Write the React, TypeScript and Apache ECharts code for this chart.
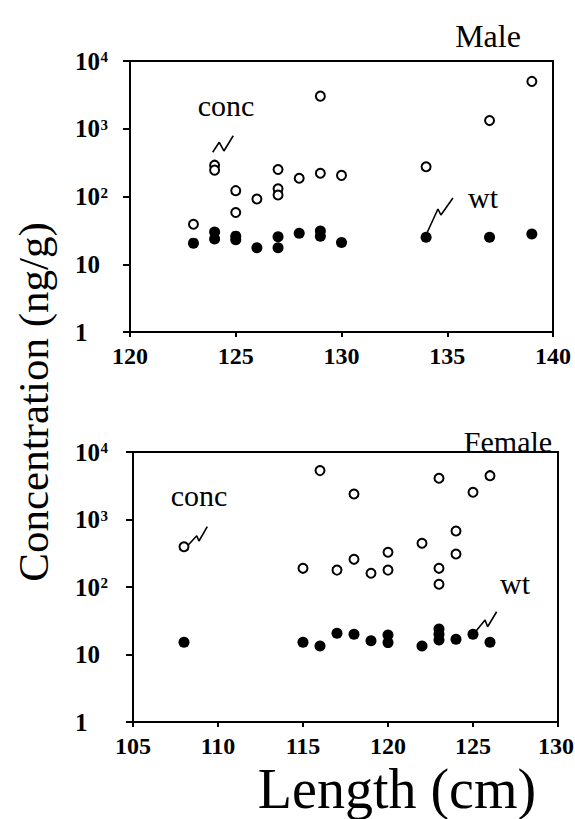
import React, { useEffect, useRef } from "react";
import * as echarts from "echarts";

// Male panel
const maleConcLength = [123, 124, 124, 125, 125, 126, 127, 127, 127, 128, 129, 129, 130, 134, 137, 139];
const maleConc = [39, 290, 245, 122, 58, 92, 250, 130, 105, 186, 3030, 220, 205, 275, 1320, 5000];
const maleWtLength = [123, 124, 124, 125, 125, 126, 127, 127, 128, 129, 129, 130, 134, 137, 139];
const maleWt = [20.5, 30, 23.6, 26, 23, 17.5, 25.5, 17.5, 28.6, 31, 26, 21, 25, 25, 28];

// Female panel
const femaleConcLength = [108, 115, 116, 117, 118, 118, 119, 120, 120, 122, 123, 123, 123, 124, 124, 125, 126];
const femaleConc = [395, 189, 5300, 178, 257, 2390, 160, 327, 178, 444, 4080, 189, 110, 675, 308, 2530, 4460];
const femaleWtLength = [108, 115, 116, 117, 118, 119, 120, 120, 122, 123, 123, 123, 124, 125, 126];
const femaleWt = [15.2, 15.2, 13.4, 20.6, 20, 16, 19.5, 15, 13.4, 23.9, 20, 16.4, 16.8, 20, 15.2];

// Break-style leader lines (data coordinates)
const maleConcLeaderX = [123.91, 124.22, 124.44, 124.88];
const maleConcLeaderY = [449, 631, 470, 789];
const maleWtLeaderX = [134.04, 134.56, 134.7, 135.27];
const maleWtLeaderY = [28.9, 65.4, 53.3, 95];
const femaleConcLeaderX = [108.25, 108.75, 108.88, 109.37];
const femaleConcLeaderY = [419, 575, 480, 782];
const femaleWtLeaderX = [125.18, 125.71, 125.86, 126.39];
const femaleWtLeaderY = [22.3, 32.5, 25.8, 43];

// Axis ranges and tick labels
const maleXRange = [120, 140];
const femaleXRange = [105, 130];
const xInterval = 5;
const maleXTicks = [120, 125, 130, 135, 140];
const femaleXTicks = [105, 110, 115, 120, 125, 130];
const yRange = [1, 10000];
const yTicks = [1, 10, 100, 1000, 10000];
const yTickBase = ["1", "10", "10", "10", "10"];
const yTickExp = ["", "", "2", "3", "4"];

const SERIF_FONT = "'Liberation Serif', 'Times New Roman', serif";

const zip = (xs: number[], ys: number[]) => xs.map((x, i) => [x, ys[i]]);

export default function App() {
  const ref = useRef<HTMLDivElement>(null);

  useEffect(() => {
    if (!ref.current) return;
    const chart = echarts.init(ref.current, undefined, { renderer: "svg" });

    const xAxisBase = (gridIndex: number, range: number[]) => ({
      type: "value",
      gridIndex,
      min: range[0],
      max: range[1],
      interval: xInterval,
      axisLine: { show: true, lineStyle: { color: "#000", width: 2 } },
      axisTick: { show: true, inside: false, length: 5, lineStyle: { color: "#000", width: 2 } },
      axisLabel: { show: false },
      splitLine: { show: false },
    });

    const yAxisBase = (gridIndex: number) => ({
      type: "log",
      logBase: 10,
      gridIndex,
      min: yRange[0],
      max: yRange[1],
      axisLine: { show: true, lineStyle: { color: "#000", width: 2 } },
      axisTick: { show: true, inside: false, length: 7, lineStyle: { color: "#000", width: 2 } },
      minorTick: { show: false },
      axisLabel: { show: false },
      splitLine: { show: false },
    });

    const openStyle = { color: "#fff", borderColor: "#000", borderWidth: 2, opacity: 1 };
    const filledStyle = { color: "#000", opacity: 1 };

    const leader = (xi: number, xs: number[], ys: number[]) => ({
      type: "line",
      xAxisIndex: xi,
      yAxisIndex: xi,
      data: zip(xs, ys),
      symbol: "none",
      lineStyle: { color: "#000", width: 1.6 },
      silent: true,
      z: 1,
    });

    const textStyle = (text: string, size: number, align = "center") => ({
      text,
      fill: "#000",
      font: `${size}px ${SERIF_FONT}`,
      textAlign: align,
      textVerticalAlign: "middle",
    });

    const boldStyle = (text: string, size: number, align = "center") => ({
      text,
      fill: "#000",
      font: `bold ${size}px 'Liberation Serif'`,
      textAlign: align,
      textVerticalAlign: "middle",
    });

    chart.setOption({
      animation: false,
      backgroundColor: "#fff",
      grid: [
        { left: 130, right: 22, top: 61, height: 271, show: true, borderColor: "#000", borderWidth: 2 },
        { left: 133, right: 17, top: 452, height: 270, show: true, borderColor: "#000", borderWidth: 2 },
      ],
      xAxis: [xAxisBase(0, maleXRange), xAxisBase(1, femaleXRange)],
      yAxis: [yAxisBase(0), yAxisBase(1)],
      series: [
        { type: "scatter", xAxisIndex: 0, yAxisIndex: 0, data: zip(maleWtLength, maleWt), symbol: "circle", symbolSize: 11, itemStyle: filledStyle, z: 2 },
        { type: "scatter", xAxisIndex: 0, yAxisIndex: 0, data: zip(maleConcLength, maleConc), symbol: "circle", symbolSize: 9, itemStyle: openStyle, z: 3 },
        { type: "scatter", xAxisIndex: 1, yAxisIndex: 1, data: zip(femaleWtLength, femaleWt), symbol: "circle", symbolSize: 11, itemStyle: filledStyle, z: 2 },
        { type: "scatter", xAxisIndex: 1, yAxisIndex: 1, data: zip(femaleConcLength, femaleConc), symbol: "circle", symbolSize: 9, itemStyle: openStyle, z: 3 },
        leader(0, maleConcLeaderX, maleConcLeaderY),
        leader(0, maleWtLeaderX, maleWtLeaderY),
        leader(1, femaleConcLeaderX, femaleConcLeaderY),
        leader(1, femaleWtLeaderX, femaleWtLeaderY),
      ],
    });

    // Tick labels placed through the axes' own scales
    const tickGraphics: any[] = [];
    const panels = [
      { grid: 0, ticks: maleXTicks, xMin: maleXRange[0] },
      { grid: 1, ticks: femaleXTicks, xMin: femaleXRange[0] },
    ];
    panels.forEach((p) => {
      p.ticks.forEach((v) => {
        const pt = chart.convertToPixel({ gridIndex: p.grid }, [v, yRange[0]]) as number[];
        const cx = Math.min(pt[0], 575 - 19);
        tickGraphics.push({ type: "text", x: cx, y: pt[1] + 24, style: boldStyle(String(v), 24) });
      });
      yTicks.forEach((v, i) => {
        const pt = chart.convertToPixel({ gridIndex: p.grid }, [p.xMin, v]) as number[];
        const left = 75;
        tickGraphics.push({ type: "text", x: left, y: pt[1], style: boldStyle(yTickBase[i], 25, "left") });
        if (yTickExp[i]) {
          tickGraphics.push({
            type: "text",
            x: left + 25.5,
            y: pt[1] - 4,
            style: boldStyle(yTickExp[i], 15, "left"),
          });
        }
      });
    });

    chart.setOption({
      graphic: [
        { type: "text", x: 488, y: 36, style: textStyle("Male", 32) },
        { type: "text", x: 508, y: 441, style: textStyle("Female", 30) },
        { type: "text", x: 226, y: 105, style: textStyle("conc", 30) },
        { type: "text", x: 483, y: 197, style: textStyle("wt", 30) },
        { type: "text", x: 199, y: 495, style: textStyle("conc", 30) },
        { type: "text", x: 515, y: 583, style: textStyle("wt", 30) },
        { type: "text", x: 33, y: 402, rotation: Math.PI / 2, style: textStyle("Concentration (ng/g)", 43) },
        { type: "text", x: 397, y: 789, style: textStyle("Length (cm)", 56) },
        ...tickGraphics,
      ],
    });

    return () => chart.dispose();
  }, []);

  return (
    <div
      ref={ref}
      style={{ position: "absolute", left: 0, top: 0, width: 575, height: 819, background: "#fff" }}
    />
  );
}
